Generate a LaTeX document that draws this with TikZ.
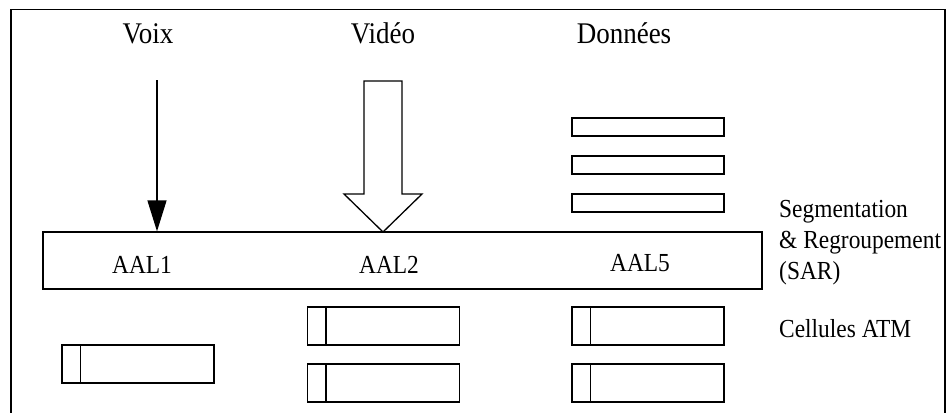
\documentclass[tikz,border=0pt]{standalone}
\usepackage{fontspec}
\setmainfont[FakeStretch=0.9]{Liberation Serif}
\usetikzlibrary{arrows.meta}
\begin{document}
\begin{tikzpicture}[x=1pt,y=-1pt,
  ln/.style={line width=1.3pt},
  title/.style={font=\fontsize{30}{36}\selectfont, anchor=base, inner sep=0},
  lbl/.style={font=\fontsize{26}{30}\selectfont, anchor=base, inner sep=0},
  side/.style={font=\fontsize{26}{30}\selectfont, anchor=base west, inner sep=0},
  cellbox/.style={draw, ln, minimum width=152pt, minimum height=38pt, inner sep=0},
  databox/.style={draw, ln, minimum width=152pt, minimum height=18pt, inner sep=0}]
\useasboundingbox (0,0) rectangle (949,412);
% frame (open at the bottom)
\draw[ln] (11,430) -- (11,9.5) -- (945,9.5) -- (945,430);
% titles
\node[title] (voix) at (148,44) {Voix};
\node[title] (video) at (383,44) {Vidéo};
\node[title] (donnees) at (624,44) {Données};
% SAR box
\node[draw, ln, minimum width=719pt, minimum height=57pt, inner sep=0] (sar) at (402.5,260.5) {};
\node[lbl] (aal1) at (142,273) {AAL1};
\node[lbl] (aal2) at (389,273) {AAL2};
\node[lbl] (aal5) at (640,271) {AAL5};
% side labels
\node[side] (seg) at (779,217) {Segmentation};
\node[side] (reg) at (779,248) {\& Regroupement};
\node[side] (sarl) at (779,279) {(SAR)};
\node[side] (cells) at (779,337) {Cellules ATM};
% voice arrow
\coordinate (vstart) at (157,80);
\draw[ln, -{Triangle[length=31pt,width=19pt]}] (vstart) -- (vstart |- sar.north);
% video block arrow
\coordinate (vtip) at (383,232);
\draw[ln, line join=miter] (vtip) -- ++(39,-38) -- ++(-20,0) -- ++(0,-113) -- ++(-38,0) -- ++(0,113) -- ++(-20,0) -- cycle;
% data boxes
\node[databox] (d1) at (648,127) {};
\node[databox] (d2) at (648,165) {};
\node[databox] (d3) at (648,203) {};
% ATM cells
\node[cellbox] (c1) at (138,364) {};
\node[cellbox] (c2a) at (383.5,326) {};
\node[cellbox] (c2b) at (383.5,383) {};
\node[cellbox] (c3a) at (648,326) {};
\node[cellbox] (c3b) at (648,383) {};
\foreach \c in {c1,c2a,c2b,c3a,c3b}
  \draw[ln] ([xshift=19pt]\c.north west) -- ([xshift=19pt]\c.south west);
\end{tikzpicture}
\end{document}
